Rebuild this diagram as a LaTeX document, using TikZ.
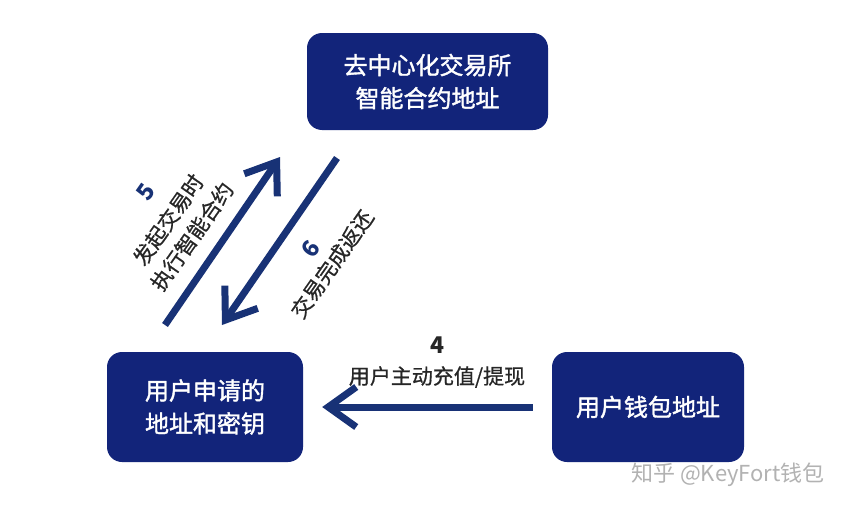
\documentclass[tikz,border=0pt]{standalone}
\usepackage{fontspec}
\setmainfont{Noto Sans CJK SC}
\newfontfamily\heavycjk[FakeBold=1.6]{Noto Sans CJK SC}
\newfontfamily\midcjk[FakeBold=0.7]{Noto Sans CJK SC}
\usetikzlibrary{arrows.meta}
\definecolor{boxnavy}{RGB}{18,36,122}
\definecolor{arrownavy}{RGB}{24,50,118}
\tikzset{
	box/.style={fill=boxnavy,rounded corners=15pt,text=white,align=center,inner sep=0pt,font=\heavycjk\fontsize{24}{33}\selectfont},
	flow/.style={draw=arrownavy,line width=7pt,line cap=butt,-{Straight Barb[length=28pt,width=40pt,line width=7pt]}},
	num/.style={text=arrownavy,inner sep=1pt,font=\fontsize{23}{24}\selectfont\bfseries},
	lbl/.style={text=black!85,align=center,inner sep=1pt,font=\midcjk\fontsize{21}{29}\selectfont}
}

\begin{document}
\begin{tikzpicture}[x=1pt,y=-1pt]
		\useasboundingbox[fill=white] (0,0) rectangle (864,514);
		
		% the three addresses
		\node[box,minimum width=241pt,minimum height=97pt] (dex) at (427.5,81.5) {去中心化交易所\\智能合约地址};
		\node[box,minimum width=196pt,minimum height=110pt] (user) at (205,407) {用户申请的\\地址和密钥};
		\node[box,minimum width=192pt,minimum height=110pt] (wallet) at (648,407) {用户钱包地址};
		
		% step 4
		\draw[flow,shorten <=19pt,shorten >=19pt] (wallet.west) -- (user.east);
		\node[num,text=black!85] (n4) at (437,345) {4};
		\node[lbl] (t4) at (437,377) {用户主动充值/提现};
		
		% step 5 and 6
		\coordinate (s5) at (165,325);
		\coordinate (e5) at (280,157);
		\coordinate (s6) at (337,158);
		\coordinate (e6) at (222,325);
		\draw[flow] (s5) -- (e5);
		\draw[flow] (s6) -- (e6);
		
		\node[num,rotate=55] (n5) at (146,192) {5};
		\node[lbl,rotate=55] (t5) at (180,228) {发起交易时\\执行智能合约};
		\node[num,rotate=55] (n6) at (311,249) {6};
		\node[lbl,rotate=55] (t6) at (332,264) {交易完成返还};
		
		\node[text=black!30,font=\fontsize{22}{24}\selectfont] (mark) at (728,475) {知乎 @KeyFort钱包};
	\end{tikzpicture}
\end{document}
